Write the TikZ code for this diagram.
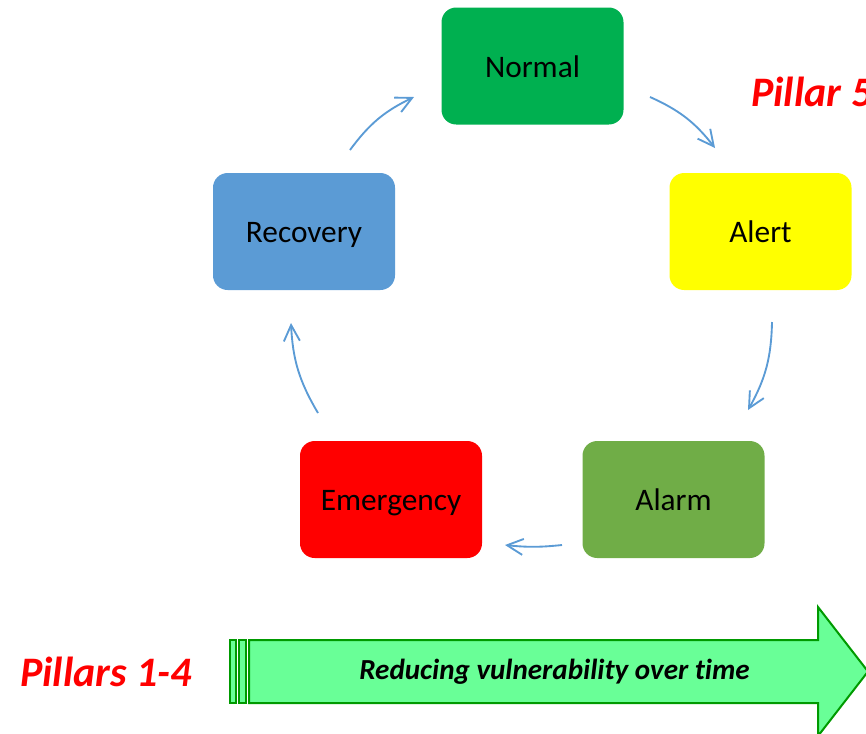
\documentclass[tikz,border=0pt]{standalone}
\usepackage{fontspec}
\setmainfont[Ligatures=NoCommon]{Carlito}
\usetikzlibrary{arrows.meta}
\definecolor{cNormal}{HTML}{00B050}
\definecolor{cAlert}{HTML}{FFFF00}
\definecolor{cAlarm}{HTML}{70AD47}
\definecolor{cEmerg}{HTML}{FF0000}
\definecolor{cRecov}{HTML}{5B9BD5}
\definecolor{flow}{HTML}{5B9BD5}
\definecolor{bigfill}{HTML}{69FF97}
\definecolor{bigline}{HTML}{009A00}
\tikzset{
  stage/.style={rounded corners=11pt, minimum width=136.5pt, minimum height=87.75pt,
    inner sep=0pt, font=\fontsize{23.5}{28}\selectfont, text=black,
    text height=20pt, text depth=3.5pt},
  cyc/.style={draw=flow, line width=1.4pt, -{Straight Barb[length=12pt,width=12pt,line width=1.4pt]}},
  pillar/.style={font=\fontsize{31.5}{36}\selectfont\bfseries\itshape, text=red, inner sep=0pt},
  bigarrow/.style={draw=bigline, line width=1.5pt, fill=bigfill, line join=miter}
}
\begin{document}
\begin{tikzpicture}[x=0.75pt, y=-0.75pt]
\useasboundingbox (0,0) rectangle (866,733);
% stages of the cycle
\node[stage, fill=cNormal] (normal) at (532.5,66) {Normal};
\node[stage, fill=cAlert] (alert) at (760.5,231.5) {Alert};
\node[stage, fill=cAlarm] (alarm) at (673.5,499.5) {Alarm};
\node[stage, fill=cEmerg] (emerg) at (391,499.5) {Emergency};
\node[stage, fill=cRecov] (recov) at (304,231.5) {Recovery};
% arrow ends between stages
\coordinate (rn1) at (350,150); \coordinate (rn2) at (414,97);
\coordinate (na1) at (650,97);  \coordinate (na2) at (715,148);
\coordinate (aa1) at (772,322); \coordinate (aa2) at (748,410);
\coordinate (ae1) at (562,545); \coordinate (ae2) at (505,545);
\coordinate (er1) at (318,413); \coordinate (er2) at (291,323);
\draw[cyc] (rn1) to[bend left=14] (rn2);
\draw[cyc] (na1) to[bend left=14] (na2);
\draw[cyc] (aa1) to[bend left=14] (aa2);
\draw[cyc] (ae1) to[bend left=6] (ae2);
\draw[cyc] (er1) to[bend left=14] (er2);
% time arrow with striped tail
\draw[bigarrow] (230,640) rectangle (236,703);
\draw[bigarrow] (239,640) rectangle (246,703);
\draw[bigarrow] (249,640) -- (818,640) -- (818,607) -- (868,671.5) -- (818,736) -- (818,703) -- (249,703) -- cycle;
\node[font=\fontsize{21.8}{26}\selectfont\bfseries\itshape, inner sep=0pt] (timetext) at (554.5,671.5) {Reducing vulnerability over time};
% labels
\node[pillar, anchor=west] (p5) at (751,92) {Pillar 5};
\node[pillar, anchor=west] (p14) at (20,672) {Pillars 1-4};
\end{tikzpicture}
\end{document}
